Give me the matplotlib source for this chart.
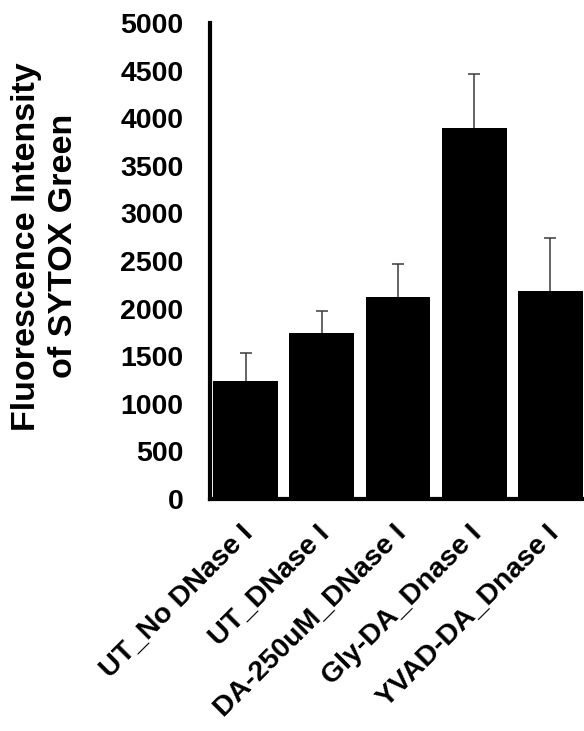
import matplotlib
matplotlib.use("Agg")
import matplotlib.pyplot as plt
import matplotlib.transforms as mtransforms

categories = ["UT_No DNase I", "UT_DNase I", "DA-250uM_DNase I",
              "Gly-DA_Dnase I", "YVAD-DA_Dnase I"]
values = [1240, 1745, 2122, 3897, 2185]
errors = [295, 230, 346, 567, 557]
yticks = [0, 500, 1000, 1500, 2000, 2500, 3000, 3500, 4000, 4500, 5000]

plt.rcParams['font.family'] = ['Liberation Sans', 'DejaVu Sans']
plt.rcParams['font.weight'] = 'bold'

fig = plt.figure(figsize=(5.84, 7.31), dpi=100)
ax = fig.add_axes([0.3596, 0.3174, 0.6404, 0.6512])

x = list(range(len(categories)))
ax.bar(x, values, width=0.85, color='black', zorder=2)
eb = ax.errorbar(x, values, yerr=[[0] * len(errors), errors], fmt='none',
                 ecolor='#3a3a3a', elinewidth=1.1, capsize=4.5, capthick=1.1,
                 zorder=1)
# hide the lower caps (only upper error shown)
caplines = eb[1]
if len(caplines) >= 2:
    caplines[0].set_visible(False)

ax.set_xlim(-0.466, 4.44)
ax.set_ylim(0, 5000)
ax.set_yticks(yticks)
ax.set_yticklabels([str(v) for v in yticks], fontsize=20.5, fontweight='bold')
ax.tick_params(axis='y', length=0, pad=19)
ax.tick_params(axis='x', length=0, pad=22)

ax.set_xticks(x)
ax.set_xticklabels(categories, rotation=45, ha='right', va='center',
                   rotation_mode='anchor', fontsize=20.5, fontweight='bold')
offset = mtransforms.ScaledTranslation(4 / 100, 0, fig.dpi_scale_trans)
for lab in ax.get_xticklabels():
    lab.set_transform(lab.get_transform() + offset)

for s in ['top', 'right']:
    ax.spines[s].set_visible(False)
for s in ['left', 'bottom']:
    ax.spines[s].set_linewidth(3)
    ax.spines[s].set_color('black')

fig.text(0.077, 0.663, "Fluorescence Intensity\nof SYTOX Green",
         rotation=90, ha='center', va='center', fontsize=24.5,
         fontweight='bold', linespacing=1.22)

fig.savefig("out.png", dpi=100)
